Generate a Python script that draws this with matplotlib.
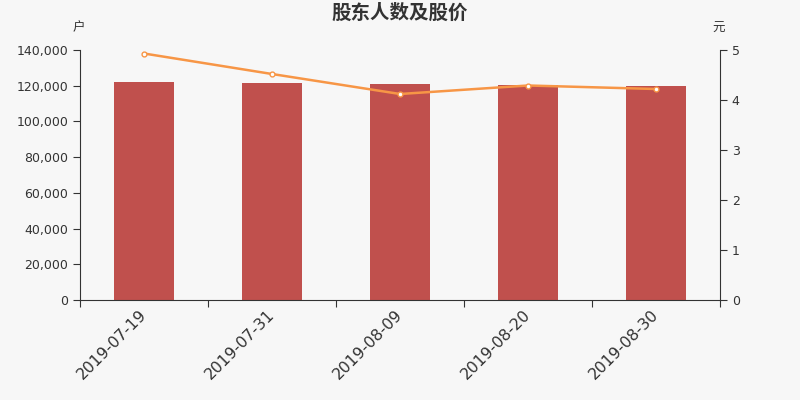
import matplotlib
matplotlib.use("Agg")
import matplotlib.pyplot as plt
import numpy as np
from matplotlib.ticker import FuncFormatter

plt.rcParams['font.family'] = ['Noto Sans CJK SC', 'DejaVu Sans']

dates = ["2019-07-19", "2019-07-31", "2019-08-09", "2019-08-20", "2019-08-30"]
holders = [122000, 121300, 120700, 120300, 120000]
prices = [4.93, 4.52, 4.12, 4.29, 4.22]

bg = "#f7f7f7"
bar_color = "#c0504d"
line_color = "#f79646"
text_color = "#333333"

fig = plt.figure(figsize=(8, 4), dpi=100, facecolor=bg)
ax = fig.add_axes([0.1, 0.25, 0.8, 0.625], facecolor=bg)
x = np.arange(len(dates))
ax.bar(x, holders, width=0.47, color=bar_color, zorder=2)
ax.set_xlim(-0.5, len(dates) - 0.5)
ax.set_ylim(0, 140000)
ax.set_yticks(np.arange(0, 140001, 20000))
ax.yaxis.set_major_formatter(FuncFormatter(lambda v, p: f"{int(v):,}"))
ax.set_xticks(np.arange(-0.5, len(dates)), minor=False)
ax.set_xticklabels([])
ax.set_xticks(x, minor=True)
ax.set_xticklabels(dates, minor=True, rotation=45, ha='right', va='center',
                   rotation_mode='anchor',
                   fontsize=11.3, family='DejaVu Sans', color=text_color)
ax.tick_params(axis='x', which='minor', length=0, pad=9)
ax.tick_params(axis='x', which='major', length=5, color=text_color)
ax.tick_params(axis='y', length=5, labelsize=9, colors=text_color)
for lab in ax.get_yticklabels():
    lab.set_family('DejaVu Sans')
for s in ['top', 'right']:
    ax.spines[s].set_visible(False)
for s in ['left', 'bottom']:
    ax.spines[s].set_color(text_color)

ax2 = ax.twinx()
ax2.plot(x, prices, color=line_color, lw=1.8, marker='o', markersize=3.5,
         markerfacecolor='white', markeredgecolor=line_color, markeredgewidth=1, zorder=3)
ax2.set_ylim(0, 5)
ax2.set_yticks(np.arange(0, 6, 1))
ax2.tick_params(axis='y', length=5, labelsize=9, colors=text_color)
for lab in ax2.get_yticklabels():
    lab.set_family('DejaVu Sans')
for s in ['top', 'left', 'bottom']:
    ax2.spines[s].set_visible(False)
ax2.spines['right'].set_color(text_color)

fig.text(0.5, 0.966, "股东人数及股价", ha='center', va='center', fontsize=14,
         fontweight='bold', color=text_color)
fig.text(0.098, 0.93, "户", ha='center', va='center', fontsize=9, color=text_color)
fig.text(0.898, 0.93, "元", ha='center', va='center', fontsize=9, color=text_color)

fig.savefig("out.png", dpi=100, facecolor=bg)
